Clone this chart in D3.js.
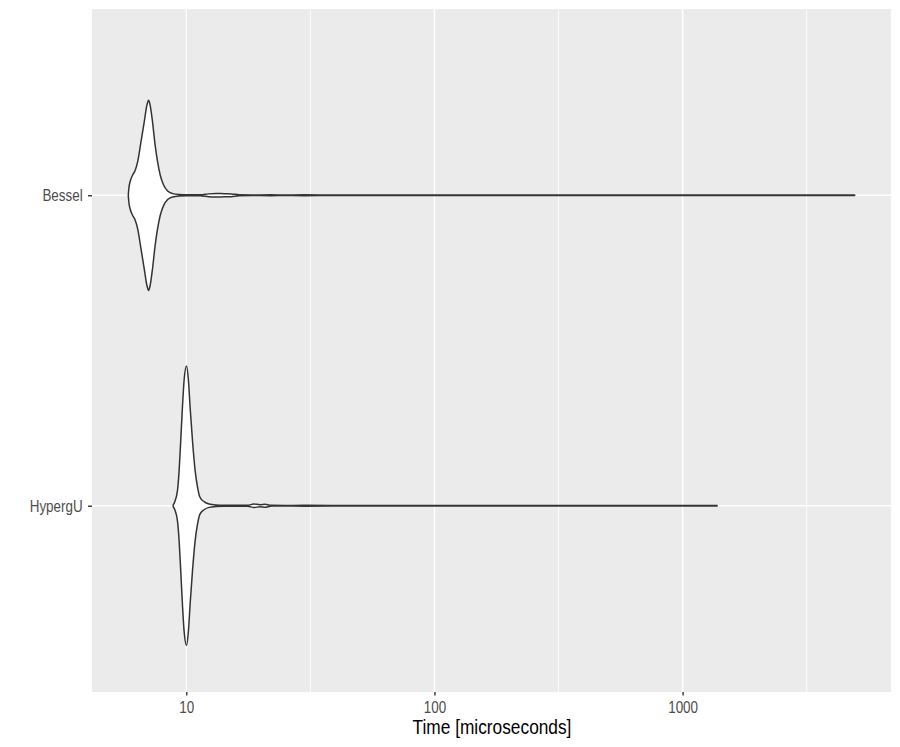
<!DOCTYPE html>
<html>
<head>
<meta charset="utf-8">
<script src="https://cdn.jsdelivr.net/npm/d3@7"></script>
<style>
  html, body { margin: 0; padding: 0; background: #ffffff; }
  svg { display: block; }
</style>
</head>
<body>
<svg id="chart" width="900" height="747"></svg>
<script>
// ---------------- data ----------------
const categories = ["Bessel", "HypergU"];

// Bessel: time (microseconds) and relative density (max over all = 1)
const besselTime = [5.84, 5.87, 5.95, 6.08, 6.21, 6.37, 6.57, 6.77, 6.94, 7.05, 7.15, 7.31, 7.49, 7.66, 7.85, 8.10, 8.41, 8.80, 9.36, 10.1,
  11.4, 12.3, 13.2, 14.2, 15.2, 16.3, 18.5, 22, 25, 30, 40, 100, 4937];
const besselDensity = [0.004, 0.05, 0.102, 0.145, 0.174, 0.241, 0.384, 0.526, 0.645, 0.681, 0.645, 0.526, 0.359, 0.241, 0.145, 0.074, 0.031, 0.012, 0.005, 0.003,
  0.003, 0.010, 0.013, 0.011, 0.010, 0.003, 0.002, 0.003, 0.002, 0.003, 0.002, 0.002, 0.002];

// HypergU
const hypergUTime = [8.85, 8.99, 9.22, 9.36, 9.50, 9.65, 9.80, 10.02, 10.20, 10.36, 10.59, 10.85, 11.09, 11.33, 11.79, 12.35, 13.14, 14.19,
  17.7, 18.7, 19.8, 20.8, 21.8, 25, 30, 50, 150, 1377];
const hypergUDensity = [0.004, 0.029, 0.112, 0.255, 0.469, 0.707, 0.898, 1.0, 0.898, 0.707, 0.469, 0.255, 0.136, 0.064, 0.029, 0.012, 0.005, 0.003,
  0.003, 0.013, 0.007, 0.011, 0.003, 0.002, 0.003, 0.002, 0.002, 0.002];

const xTicks = [10, 100, 1000];
const xTickLabels = ["10", "100", "1000"];
const xMinorBreaks = [31.62, 316.2, 3162];
const xTitle = "Time [microseconds]";

// ---------------- layout ----------------
const panel = { left: 92, right: 891, top: 9, bottom: 692 };
const svg = d3.select("#chart");

const series = [
  { name: "Bessel", time: besselTime, density: besselDensity },
  { name: "HypergU", time: hypergUTime, density: hypergUDensity }
];

const allT = besselTime.concat(hypergUTime);
const lmin = Math.log10(d3.min(allT)), lmax = Math.log10(d3.max(allT));
const ex = (lmax - lmin) * 0.05;
const x = d3.scaleLog()
  .domain([Math.pow(10, lmin - ex), Math.pow(10, lmax + ex)])
  .range([panel.left, panel.right]);

const y = d3.scalePoint()
  .domain(categories)
  .range([panel.top, panel.bottom])
  .padding(0.6);

const w = d3.scaleLinear().domain([0, 1]).range([0, 0.45 * y.step()]);

// panel background
svg.append("rect")
  .attr("x", panel.left).attr("y", panel.top)
  .attr("width", panel.right - panel.left).attr("height", panel.bottom - panel.top)
  .attr("fill", "#EBEBEB");

// minor grid
svg.append("g").selectAll("line").data(xMinorBreaks).join("line")
  .attr("x1", d => x(d)).attr("x2", d => x(d))
  .attr("y1", panel.top).attr("y2", panel.bottom)
  .attr("stroke", "#ffffff").attr("stroke-width", 0.8);

// major grid
svg.append("g").selectAll("line").data(xTicks).join("line")
  .attr("x1", d => x(d)).attr("x2", d => x(d))
  .attr("y1", panel.top).attr("y2", panel.bottom)
  .attr("stroke", "#ffffff").attr("stroke-width", 1.5);
svg.append("g").selectAll("line").data(categories).join("line")
  .attr("x1", panel.left).attr("x2", panel.right)
  .attr("y1", d => y(d)).attr("y2", d => y(d))
  .attr("stroke", "#ffffff").attr("stroke-width", 1.5);

// violins
series.forEach(s => {
  const pts = s.time.map((t, i) => ({ t: t, d: s.density[i] }));
  const cy = y(s.name);
  const area = d3.area()
    .x(p => x(p.t))
    .y0(p => cy + w(p.d))
    .y1(p => cy - w(p.d))
    .curve(d3.curveMonotoneX);
  svg.append("path")
    .datum(pts)
    .attr("d", area)
    .attr("fill", "#ffffff")
    .attr("stroke", "#333333")
    .attr("stroke-width", 1.5)
    .attr("stroke-linejoin", "round");
});

// axes
const xAxis = d3.axisBottom(x).tickValues(xTicks).tickFormat((d, i) => xTickLabels[i]).tickSize(3.5).tickPadding(2);
const gx = svg.append("g").attr("transform", `translate(0,${panel.bottom})`).call(xAxis);
gx.select(".domain").remove();
gx.selectAll(".tick line").attr("stroke", "#333333").attr("stroke-width", 1.4);
gx.selectAll(".tick text")
  .attr("fill", "#4D4D4D").attr("font-family", "'Liberation Sans', Arial, sans-serif")
  .attr("font-size", 16).attr("dy", null).attr("y", 0)
  .attr("transform", "translate(0,20.6) scale(0.84,1)");

const yAxis = d3.axisLeft(y).tickSize(4).tickPadding(0);
const gy = svg.append("g").attr("transform", `translate(${panel.left},0)`).call(yAxis);
gy.select(".domain").remove();
gy.selectAll(".tick line").attr("stroke", "#333333").attr("stroke-width", 1.4);
gy.selectAll(".tick text")
  .attr("fill", "#4D4D4D").attr("font-family", "'Liberation Sans', Arial, sans-serif")
  .attr("font-size", 16).attr("dy", null).attr("x", 0).attr("y", 0)
  .attr("text-anchor", "end")
  .attr("transform", "translate(-9.3,5.7) scale(0.84,1)");

// x title
svg.append("text")
  .attr("transform", `translate(${(panel.left + panel.right) / 2 + 0.5},734) scale(0.865,1)`)
  .attr("text-anchor", "middle")
  .attr("font-family", "'Liberation Sans', Arial, sans-serif")
  .attr("font-size", 20)
  .attr("fill", "#000000")
  .text(xTitle);
</script>
</body>
</html>
